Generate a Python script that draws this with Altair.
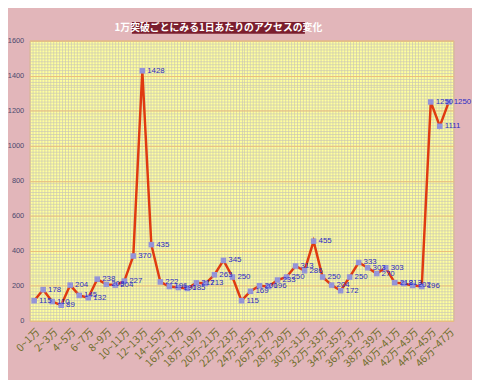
import altair as alt
import pandas as pd

categories = [
    "0~1万", "1~2万", "2~3万", "3~4万", "4~5万", "5~6万", "6~7万", "7~8万",
    "8~9万", "9~10万", "10~11万", "11~12万", "12~13万", "13~14万", "14~15万",
    "15~16万", "16万~17万", "17万~18万", "18万~19万", "19万~20万", "20万~21万",
    "21万~22万", "22万~23万", "23万~24万", "24万~25万", "25万~26万", "26万~27万",
    "27万~28万", "28万~29万", "29万~30万", "30万~31万", "31万~32万", "32万~33万",
    "33万~34万", "34万~35万", "35万~36万", "36万~37万", "37万~38万", "38万~39万",
    "39万~40万", "40万~41万", "41万~42万", "42万~43万", "43万~44万", "44万~45万",
    "45万~46万", "46万~47万",
]
values = [
    115, 178, 110, 89, 204, 145, 132, 238, 208, 204, 227, 370, 1428, 435, 222,
    196, 190, 185, 217, 213, 263, 345, 250, 115, 169, 200, 196, 233, 250, 313,
    286, 455, 250, 204, 172, 250, 333, 303, 270, 303, 218, 213, 202, 196, 1250,
    1111, 1250,
]
tick_labels = categories[::2]
y_ticks = [0, 200, 400, 600, 800, 1000, 1200, 1400, 1600]
title_text = "1万突破ごとにみる1日あたりのアクセスの変化"

df = pd.DataFrame({"range": categories, "access": values})

x_enc = alt.X(
    "range:N", sort=categories,
    scale=alt.Scale(type="point", padding=0.5),
    axis=alt.Axis(values=tick_labels, title=None, labelAngle=-45, labelFontSize=10.5,
                  labelColor="#6E6E2A", labelFont="Noto Sans CJK JP", ticks=False,
                  domain=False, grid=False, labelPadding=6),
)
y_enc = alt.Y(
    "access:Q", scale=alt.Scale(domain=[0, 1600], nice=False),
    axis=alt.Axis(values=y_ticks, format="d", title=None, labelFontSize=7.5,
                  labelColor="#4A4A6E", labelFont="Liberation Sans", ticks=False,
                  domain=False, labelPadding=6, grid=True, gridColor="#EDBE78",
                  gridWidth=1),
)

base = alt.Chart(df).encode(x=x_enc, y=y_enc)
line = base.mark_line(color="#E03A10", strokeWidth=2.5)
pts = base.mark_square(size=32, color="#9494D8", opacity=1)
labels = base.mark_text(align="left", baseline="middle", dx=5, fontSize=8,
                        font="Liberation Sans", color="#2B2BC4").encode(text="access:Q")

tdf = pd.DataFrame({"title": [title_text]})
tbox = alt.Chart(tdf).mark_rect(color="#7B1E2E").encode(
    x=alt.value(104), x2=alt.value(280), y=alt.value(-19), y2=alt.value(-7))
ttext = alt.Chart(tdf).mark_text(color="white", fontSize=10, fontWeight="bold",
                                 font="Noto Sans CJK JP", baseline="middle").encode(
    text="title:N", x=alt.value(192), y=alt.value(-13))

main = alt.layer(line, pts, labels, tbox, ttext)

gdf = pd.DataFrame({"gx": [0], "gy": [0]})
grid = alt.Chart(gdf).mark_point(opacity=0).encode(
    x=alt.X("gx:Q", scale=alt.Scale(domain=[0, 144], nice=False, zero=False),
            axis=alt.Axis(orient="top", values=list(range(145)), labels=False, ticks=False,
                          domain=False, title=None, grid=True, gridColor="#C9C6B4",
                          gridWidth=1, gridOpacity=0.7)),
    y=alt.Y("gy:Q", scale=alt.Scale(domain=[0, 96], nice=False, zero=False),
            axis=alt.Axis(orient="right", values=list(range(97)), labels=False, ticks=False,
                          domain=False, title=None, grid=True, gridColor="#C9C6B4",
                          gridWidth=1, gridOpacity=0.7)),
)

chart = alt.layer(grid, main).resolve_scale(x="independent", y="independent").resolve_axis(
    x="independent", y="independent"
).properties(
    width=431, height=285,
    padding={"left": 22, "top": 30, "right": 19, "bottom": 57},
    autosize=alt.AutoSizeParams(type="none"),
).configure(background="#E2B6BA").configure_view(fill="#FFFF9E", stroke="#E8A878")

chart.save("out.html", embed_options={"renderer": "svg", "actions": False})
